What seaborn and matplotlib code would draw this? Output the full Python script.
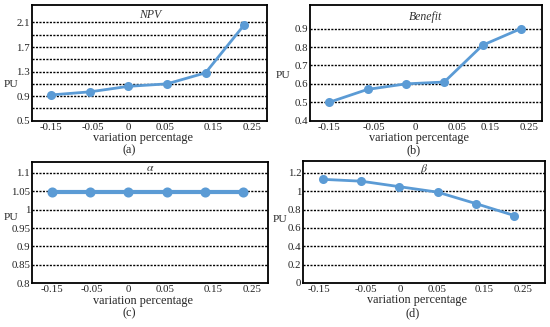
import numpy as np
import pandas as pd
import matplotlib
matplotlib.use("Agg")
import matplotlib.pyplot as plt
import seaborn as sns

categories = ["-0.15", "-0.05", "0", "0.05", "0.15", "0.25"]
npv = [0.92, 0.97, 1.06, 1.10, 1.28, 2.06]
benefit = [0.50, 0.57, 0.60, 0.61, 0.81, 0.90]
alpha = [1.047, 1.047, 1.047, 1.047, 1.047, 1.047]
beta = [1.13, 1.11, 1.05, 0.99, 0.865, 0.735]

titles = ["NPV", "Benefit", r"$\alpha$", r"$\beta$"]
captions = ["(a)", "(b)", "(c)", "(d)"]

sns.set_theme(style="white")
plt.rcParams["font.family"] = ["Liberation Serif", "DejaVu Serif"]
plt.rcParams["mathtext.fontset"] = "stix"

W, H = 550, 327
fig = plt.figure(figsize=(W / 100, H / 100), dpi=100)

def px_axes(l, r, t, b):
    return fig.add_axes([l / W, 1 - b / H, (r - l) / W, (b - t) / H])

BLUE = "#5B9BD5"

panels = [
    dict(box=(32.3, 267.3, 4.7, 120.7), data=npv, ylim=(0.5, 2.39),
         major=[0.5, 0.9, 1.3, 1.7, 2.1], grid=[0.7, 0.9, 1.1, 1.3, 1.5, 1.7, 1.9, 2.1],
         xt=[0, 1.07, 2.0, 2.95, 4.19, 5.2], xlim=(-0.49, 5.6),
         lw=2.0, pu=(4, 85), tx=143, ty=15, cx=129),
    dict(box=(310, 542, 4.7, 120.7), data=benefit, ylim=(0.4, 1.03),
         major=[0.4, 0.5, 0.6, 0.7, 0.8, 0.9], grid=[0.5, 0.6, 0.7, 0.8, 0.9],
         xt=[0, 1.17, 2.24, 3.33, 4.2, 5.2], xlim=(-0.5, 5.55),
         lw=2.0, pu=(276, 75), tx=422, ty=17, cx=414),
    dict(box=(32.3, 268, 161.7, 283.3), data=alpha, ylim=(0.8, 1.13),
         major=[0.8, 0.85, 0.9, 0.95, 1.0, 1.05, 1.1], grid=[0.85, 0.9, 0.95, 1.0, 1.05, 1.1],
         xt=[0, 1.05, 2.0, 2.97, 4.22, 5.25], xlim=(-0.52, 5.66),
         lw=3.0, pu=(4, 217), tx=150, ty=168, cx=129),
    dict(box=(303.3, 545, 161, 283), data=beta, ylim=(0.0, 1.33),
         major=[0, 0.2, 0.4, 0.6, 0.8, 1.0, 1.2], grid=[0.2, 0.4, 0.6, 0.8, 1.0, 1.2],
         xt=[-0.11, 1.12, 2.02, 2.99, 4.22, 5.23], xlim=(-0.51, 5.8),
         lw=2.0, pu=(273, 220), tx=427, ty=169, cx=413),
]

for p, title, cap in zip(panels, titles, captions):
    l, r, t, b = p["box"]
    ax = px_axes(l, r, t, b)
    df = pd.DataFrame({"x": categories, "y": p["data"]})
    for g in p["grid"]:
        ax.axhline(g, color="black", lw=1.0, linestyle=(0, (1.5, 1.0)), zorder=1)
    sns.pointplot(data=df, x="x", y="y", ax=ax, color=BLUE,
                  markersize=5, linewidth=p["lw"], zorder=3)
    ax.set_xlim(*p["xlim"])
    ax.set_ylim(*p["ylim"])
    ax.set_xticks(p["xt"], labels=categories)
    ax.set_yticks(p["major"], labels=[f"{v:g}" for v in p["major"]])
    ax.tick_params(axis="both", length=0, labelsize=7.8, pad=1.5, colors="#222222")
    ax.set_xlabel("")
    ax.set_ylabel("")
    for s in ax.spines.values():
        s.set_visible(True)
        s.set_color("black")
        s.set_linewidth(1.3)
    ax.text(0.5, 1 - (p["ty"] - t) / (b - t), title, transform=ax.transAxes,
            ha="center", va="center", fontsize=8.5, style="italic", color="#333333")
    pux, puy = p["pu"]
    fig.text(pux / W, 1 - puy / H, "PU", ha="left", va="center", fontsize=8.2)
    fig.text(((l + r) / 2 - 7) / W, 1 - (b + 17.5) / H, "variation percentage",
             ha="center", va="center", fontsize=8.8)
    fig.text(p["cx"] / W, 1 - (b + 30) / H, cap, ha="center", va="center", fontsize=8.8)

fig.savefig("out.png", dpi=100)
